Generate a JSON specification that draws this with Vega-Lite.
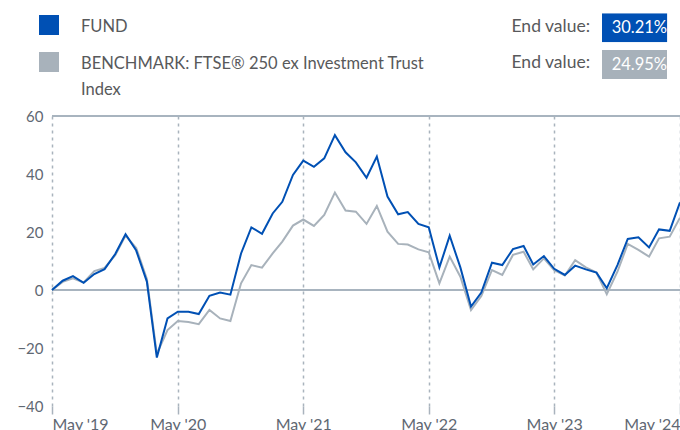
{
  "$schema": "https://vega.github.io/schema/vega-lite/v6.json",
  "width": 628,
  "height": 290,
  "autosize": {"type": "none"},
  "padding": {"left": 52, "top": 116, "right": 0, "bottom": 24},
  "background": "white",
  "config": {
    "view": {"stroke": null},
    "font": "Lato",
    "axisX": {"domain": false, "tickColor": "#a9b3bd", "tickSize": 8, "tickWidth": 1.5, "labelPadding": 2, "labelFontSize": 16, "labelColor": "#5f6873", "labelFlush": true, "gridColor": "#a9b3bd", "gridDash": [3, 4], "gridWidth": 1.5, "labelFont": "Lato"},
    "axisY": {"domain": false, "ticks": false, "labelPadding": 9, "labelFontSize": 15, "labelColor": "#5f6873", "gridColor": "#a9b3bd", "gridDash": [3, 4], "gridWidth": 1.5, "labelFont": "Lato"},
    "legend": {"padding": 0, "labelFont": "Lato", "labelFontSize": 16.5, "labelColor": "#58595b", "orient": "none", "labelLimit": 0}
  },
  "data": {"values": [
    {"d": "2019-05-01", "fund": 0, "bench": 0},
    {"d": "2019-06-01", "fund": 3.2, "bench": 2.8},
    {"d": "2019-07-01", "fund": 4.8, "bench": 4.0},
    {"d": "2019-08-01", "fund": 2.5, "bench": 2.6},
    {"d": "2019-09-01", "fund": 5.5, "bench": 6.5},
    {"d": "2019-10-01", "fund": 7.2, "bench": 7.6},
    {"d": "2019-11-01", "fund": 12.4, "bench": 12.0},
    {"d": "2019-12-01", "fund": 19.2, "bench": 18.8},
    {"d": "2020-01-01", "fund": 13.6, "bench": 14.5},
    {"d": "2020-02-01", "fund": 2.9, "bench": 3.8},
    {"d": "2020-03-01", "fund": -23.3, "bench": -22.0},
    {"d": "2020-04-01", "fund": -9.8, "bench": -13.8},
    {"d": "2020-05-01", "fund": -7.5, "bench": -10.7},
    {"d": "2020-06-01", "fund": -7.5, "bench": -11.0},
    {"d": "2020-07-01", "fund": -8.3, "bench": -11.8},
    {"d": "2020-08-01", "fund": -2.0, "bench": -6.9},
    {"d": "2020-09-01", "fund": -0.9, "bench": -9.8},
    {"d": "2020-10-01", "fund": -1.6, "bench": -10.7},
    {"d": "2020-11-01", "fund": 12.6, "bench": 2.3},
    {"d": "2020-12-01", "fund": 21.6, "bench": 8.6},
    {"d": "2021-01-01", "fund": 19.4, "bench": 7.7},
    {"d": "2021-02-01", "fund": 26.4, "bench": 12.6},
    {"d": "2021-03-01", "fund": 30.4, "bench": 16.7},
    {"d": "2021-04-01", "fund": 39.7, "bench": 22.2},
    {"d": "2021-05-01", "fund": 44.6, "bench": 24.3},
    {"d": "2021-06-01", "fund": 42.5, "bench": 22.1},
    {"d": "2021-07-01", "fund": 45.4, "bench": 25.9},
    {"d": "2021-08-01", "fund": 53.4, "bench": 33.6},
    {"d": "2021-09-01", "fund": 47.5, "bench": 27.4},
    {"d": "2021-10-01", "fund": 44.0, "bench": 27.0},
    {"d": "2021-11-01", "fund": 38.7, "bench": 22.8},
    {"d": "2021-12-01", "fund": 46.0, "bench": 29.0},
    {"d": "2022-01-01", "fund": 32.2, "bench": 20.1},
    {"d": "2022-02-01", "fund": 26.1, "bench": 15.9},
    {"d": "2022-03-01", "fund": 26.9, "bench": 15.7},
    {"d": "2022-04-01", "fund": 22.8, "bench": 14.0},
    {"d": "2022-05-01", "fund": 21.6, "bench": 13.0},
    {"d": "2022-06-01", "fund": 7.8, "bench": 2.3},
    {"d": "2022-07-01", "fund": 18.7, "bench": 11.5},
    {"d": "2022-08-01", "fund": 7.8, "bench": 4.6},
    {"d": "2022-09-01", "fund": -5.7, "bench": -6.9},
    {"d": "2022-10-01", "fund": -0.9, "bench": -2.1},
    {"d": "2022-11-01", "fund": 9.4, "bench": 6.9},
    {"d": "2022-12-01", "fund": 8.6, "bench": 5.2},
    {"d": "2023-01-01", "fund": 14.1, "bench": 12.1},
    {"d": "2023-02-01", "fund": 15.2, "bench": 13.2},
    {"d": "2023-03-01", "fund": 8.8, "bench": 7.1},
    {"d": "2023-04-01", "fund": 11.7, "bench": 10.9},
    {"d": "2023-05-01", "fund": 7.3, "bench": 6.8},
    {"d": "2023-06-01", "fund": 5.2, "bench": 5.0},
    {"d": "2023-07-01", "fund": 8.4, "bench": 10.3},
    {"d": "2023-08-01", "fund": 7.1, "bench": 7.8},
    {"d": "2023-09-01", "fund": 6.0, "bench": 6.0},
    {"d": "2023-10-01", "fund": 0.6, "bench": -1.4},
    {"d": "2023-11-01", "fund": 8.6, "bench": 6.3},
    {"d": "2023-12-01", "fund": 17.6, "bench": 15.9},
    {"d": "2024-01-01", "fund": 18.2, "bench": 13.8},
    {"d": "2024-02-01", "fund": 14.7, "bench": 11.5},
    {"d": "2024-03-01", "fund": 20.9, "bench": 17.8},
    {"d": "2024-04-01", "fund": 20.4, "bench": 18.4},
    {"d": "2024-05-01", "fund": 30.21, "bench": 24.95}
  ]},
  "layer": [
    {
      "mark": {"type": "rule", "color": "#a9b4bf", "strokeWidth": 1.5},
      "encoding": {
        "y": {"datum": 60, "type": "quantitative", "scale": {"domain": [-40, 60], "nice": false, "zero": false}, "axis": {"values": [-40, -20, 0, 20, 40, 60], "title": null}}
      }
    },
    {
      "mark": {"type": "rule", "color": "#a9b4bf", "strokeWidth": 1.5},
      "encoding": {
        "y": {"datum": 0, "type": "quantitative", "axis": {"values": [-40, -20, 0, 20, 40, 60], "title": null}}
      }
    },
    {
      "mark": {"type": "line", "strokeWidth": 2},
      "encoding": {
        "x": {"field": "d", "type": "temporal", "scale": {"type": "utc", "nice": false, "domain": [{"year": 2019, "month": 5, "date": 1, "utc": true}, {"year": 2024, "month": 5, "date": 1, "utc": true}]}, "axis": {"title": null, "format": "%b '%y", "values": [{"year": 2019, "month": 5, "date": 1, "utc": true}, {"year": 2020, "month": 5, "date": 1, "utc": true}, {"year": 2021, "month": 5, "date": 1, "utc": true}, {"year": 2022, "month": 5, "date": 1, "utc": true}, {"year": 2023, "month": 5, "date": 1, "utc": true}, {"year": 2024, "month": 5, "date": 1, "utc": true}]}},
        "y": {"field": "bench", "type": "quantitative", "axis": {"values": [-40, -20, 0, 20, 40, 60], "title": null}},
        "color": {"datum": "bench", "type": "nominal", "scale": {"domain": ["fund", "bench"], "range": ["#0050b4", "#a8b2bb"]},
          "legend": {"title": null, "orient": "none", "legendX": -13, "legendY": -101, "symbolType": "square", "symbolSize": 400, "symbolStrokeWidth": 0, "labelOffset": 22, "rowPadding": 16, "direction": "vertical", "labelBaseline": "top",
            "labelExpr": "datum.value == 'fund' ? 'FUND' : ['BENCHMARK: FTSE® 250 ex Investment Trust', 'Index']",
            "encode": {"symbols": {"update": {"fill": {"scale": "color", "field": "value"}, "strokeWidth": {"value": 0}, "opacity": {"value": 1}}}, "labels": {"update": {"dy": {"value": -6}, "lineHeight": {"value": 25.5}}}}}}
      }
    },
    {
      "mark": {"type": "line", "strokeWidth": 2},
      "encoding": {
        "x": {"field": "d", "type": "temporal"},
        "y": {"field": "fund", "type": "quantitative", "axis": {"values": [-40, -20, 0, 20, 40, 60], "title": null}},
        "color": {"datum": "fund", "type": "nominal"}
      }
    },
    {
      "data": {"values": [
        {"row": "first", "end": "30.21%"},
        {"row": "second", "end": "24.95%"}
      ]},
      "transform": [{"filter": "false"}],
      "mark": {"type": "point", "filled": true},
      "encoding": {
        "shape": {"field": "row", "type": "nominal", "scale": {"domain": ["first", "second"]},
          "legend": {"title": null, "orient": "none", "legendX": 442, "legendY": -99.3, "symbolSize": 1, "symbolOpacity": 0, "labelOffset": 0, "clipHeight": 20, "rowPadding": 16.6, "labelFontSize": 17.5, "labelExpr": "'End value:'"}},
        "fill": {"field": "end", "type": "nominal", "scale": {"domain": ["30.21%", "24.95%"], "range": ["#0050b4", "#a7b1ba"]},
          "legend": {"title": null, "orient": "none", "legendX": 550, "legendY": -102.7, "symbolType": "M-1,-0.3867H1V0.3867H-1Z", "symbolSize": 5625, "symbolStrokeWidth": 0, "symbolOpacity": 1, "clipHeight": 29, "rowPadding": 7.7, "labelOffset": -65.3, "labelColor": "white"}}
      }
    }
  ]
}
